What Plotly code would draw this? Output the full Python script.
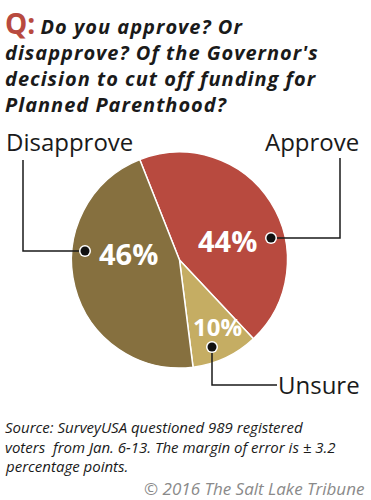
import plotly.graph_objects as go

W, H = 371, 500

categories = ["Approve", "Unsure", "Disapprove"]
values = [44, 10, 46]
colors = ["#B84A3F", "#C5AD63", "#86703F"]

title_lines = [
    "Do you approve? Or",
    "disapprove? Of the Governor's",
    "decision to cut off funding for",
    "Planned Parenthood?",
]
source_lines = [
    "Source: SurveyUSA questioned 989 registered",
    "voters  from Jan. 6-13. The margin of error is \u00b1 3.2",
    "percentage points.",
]
credit = "\u00a9 2016 The Salt Lake Tribune"


def px(x):
    return x / W


def py(y):
    return 1 - y / H


fig = go.Figure()

cx, cy, r = 179.5, 260, 108
fig.add_trace(go.Pie(
    labels=categories,
    values=values,
    sort=False,
    direction="clockwise",
    rotation=-21.6,
    marker=dict(colors=colors, line=dict(color="white", width=1.5)),
    textinfo="none",
    hoverinfo="label+percent",
    showlegend=False,
    domain=dict(x=[px(cx - r), px(cx + r)], y=[py(cy + r), py(cy - r)]),
))

annotations = []
shapes = []

# Title (one text block, "Q:" styled inline)
q = "<span style='font-size:28px;color:#B84A3F'>Q:</span>"
body = "<br>".join(f"<i><span style='letter-spacing:1px'>{t}</span></i>" for t in title_lines)
body = body.replace("<i>", q + " <i>", 1)
annotations.append(dict(
    x=px(3), y=py(1.5), xref="paper", yref="paper", xanchor="left", yanchor="top",
    align="left", showarrow=False,
    text=f"<b>{body}</b>",
    font=dict(family="Open Sans", size=20, color="#1a1a1a"),
))

# Category labels
label_pos = {
    "Approve": (361, 141, "right"),
    "Disapprove": (4, 141, "left"),
    "Unsure": (362, 384, "right"),
}
for cat in categories:
    x, y, anc = label_pos[cat]
    annotations.append(dict(
        x=px(x), y=py(y), xref="paper", yref="paper", xanchor=anc, yanchor="middle",
        showarrow=False, text=cat,
        font=dict(family="Open Sans", size=24, color="#1a1a1a"),
    ))

# Percent labels
pct_pos = {"Approve": (227, 240, 29), "Disapprove": (128, 253, 29), "Unsure": (217, 326, 24)}
for cat, v in zip(categories, values):
    x, y, s = pct_pos[cat]
    annotations.append(dict(
        x=px(x), y=py(y), xref="paper", yref="paper", xanchor="center", yanchor="middle",
        showarrow=False, text=f"<b>{v}%</b>",
        font=dict(family="Open Sans", size=s, color="white"),
    ))

# Connector lines
line_style = dict(color="#1a1a1a", width=1.5)
paths = [
    [(271, 238), (340, 238), (340, 158)],
    [(85, 251), (23, 251), (23, 160)],
    [(212, 347), (212, 385), (277, 385)],
]
for pts in paths:
    d = "M " + " L ".join(f"{px(x)},{py(y)}" for x, y in pts)
    shapes.append(dict(type="path", xref="paper", yref="paper", path=d, line=line_style))
for x, y in [(271, 238), (85, 251), (212, 347)]:
    shapes.append(dict(type="circle", xref="paper", yref="paper",
                       x0=px(x - 6), x1=px(x + 6), y0=py(y + 6), y1=py(y - 6),
                       fillcolor="white", line=dict(width=0)))
    shapes.append(dict(type="circle", xref="paper", yref="paper",
                       x0=px(x - 4.5), x1=px(x + 4.5), y0=py(y + 4.5), y1=py(y - 4.5),
                       fillcolor="#111", line=dict(width=0)))

# Source
for i, t in enumerate(source_lines):
    annotations.append(dict(
        x=px(3), y=py(427 + i * 19.5), xref="paper", yref="paper", xanchor="left", yanchor="middle",
        showarrow=False, text=f"<i>{t}</i>",
        font=dict(family="Open Sans", size=15, color="#1a1a1a"),
    ))
annotations.append(dict(
    x=px(366), y=py(488), xref="paper", yref="paper", xanchor="right", yanchor="middle",
    showarrow=False, text=f"<i>{credit}</i>",
    font=dict(family="Open Sans", size=17, color="#8a8a8a"),
))

fig.update_layout(
    width=W, height=H,
    margin=dict(l=0, r=0, t=0, b=0),
    paper_bgcolor="white", plot_bgcolor="white",
    annotations=annotations, shapes=shapes,
)

fig.write_html(
    "out.html",
    config={"displayModeBar": False},
    post_script="document.body.style.margin='0';document.body.style.overflow='hidden';",
)
